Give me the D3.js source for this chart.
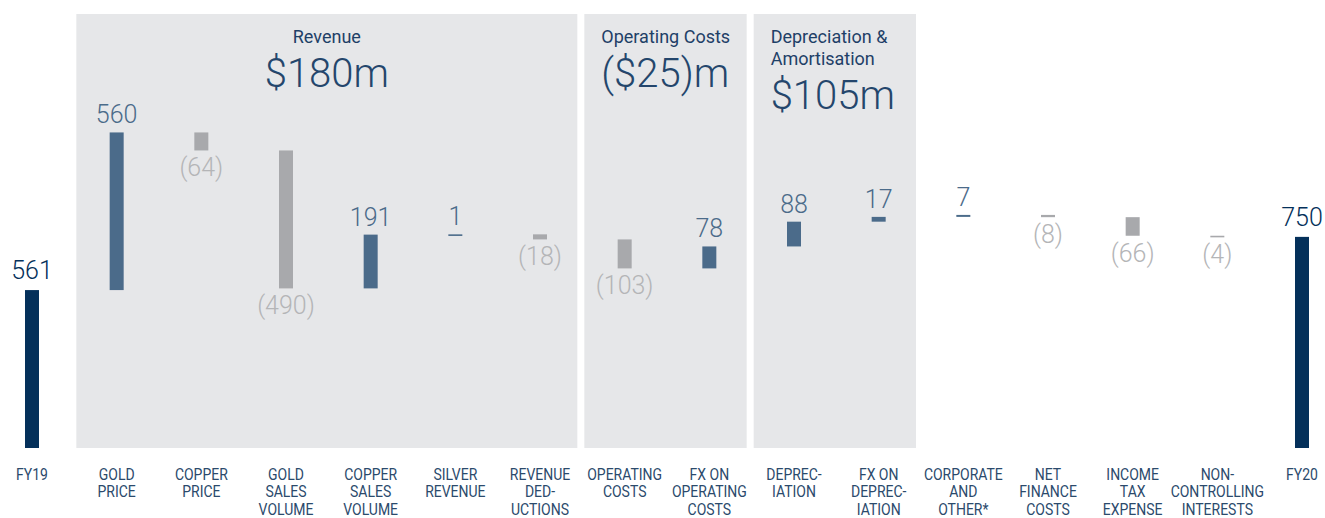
<!DOCTYPE html>
<html>
<head>
<meta charset="utf-8">
<title>fy19 to fy20 bridge</title>
<script src="https://cdn.jsdelivr.net/npm/d3@7"></script>
<style>
body { margin:0; background:#fff; }
text { font-family: Roboto, "DejaVu Sans", sans-serif; }
.cat { font-size:14.5px; fill:#2b4a6c; }
.val { font-size:25px; font-weight:300; }
.ptitle { font-size:18px; fill:#1e4067; }
.pval { font-size:40px; font-weight:300; fill:#24466c; }
</style>
</head>
<body>
<svg id="chart" width="1325" height="518"></svg>
<script>
// bottom labels, lines split on |
var cats = ["FY19", "GOLD|PRICE", "COPPER|PRICE", "GOLD|SALES|VOLUME", "COPPER|SALES|VOLUME",
  "SILVER|REVENUE", "REVENUE|DED-|UCTIONS", "OPERATING|COSTS", "FX ON|OPERATING|COSTS",
  "DEPREC-|IATION", "FX ON|DEPREC-|IATION", "CORPORATE|AND|OTHER*", "NET|FINANCE|COSTS",
  "INCOME|TAX|EXPENSE", "NON-|CONTROLLING|INTERESTS", "FY20"];
var vals = [561, 560, -64, -490, 191, 1, -18, -103, 78, 88, 17, 7, -8, -66, -4, 750];
var totals = ["FY19", "FY20"];

// shaded groups: first and last category index
var panelNames = ["Revenue", "Operating Costs", "Depreciation &|Amortisation"];
var panelVals = ["$180m", "($25)m", "$105m"];
var panelFrom = [1, 7, 9];
var panelTo = [6, 8, 10];

var col = {tot:"#04305a", up:"#4b6b8a", dn:"#a8a9ac", upTxt:"#4b6b8a", dnTxt:"#b4b5b7", panel:"#e6e7e9"};

var svg = d3.select("#chart");
var x = d3.scalePoint().domain(cats).range([32, 1302]);
var step = x.step();
var y = d3.scaleLinear().domain([0, 1000]).range([448, 166.5]);
var bw = 14;

// running totals
var rows = [], run = 0;
cats.forEach(function(c, i) {
  var v = vals[i], tot = totals.indexOf(c) >= 0;
  var a = tot ? 0 : run, b = tot ? v : run + v;
  run = b;
  rows.push({c:c, v:v, tot:tot, lo:Math.min(a, b), hi:Math.max(a, b)});
});

// panels
var pg = svg.append("g");
panelNames.forEach(function(n, i) {
  var l = x(cats[panelFrom[i]]) - step / 2 + 2;
  var r = x(cats[panelTo[i]]) + step / 2 - 5;
  pg.append("rect").attr("x", l).attr("y", 14).attr("width", r - l).attr("height", y(0) - 14)
    .attr("fill", col.panel);
  var mid = i == 0, tx = mid ? (l + r) / 2 : l + 17, anc = mid ? "middle" : "start";
  var lines = n.split("|");
  pg.append("text").attr("class", "ptitle").attr("text-anchor", anc)
    .selectAll("tspan").data(lines).enter().append("tspan")
    .attr("x", tx).attr("y", function(d, j) { return 43 + j * 22; }).text(function(d) { return d; });
  pg.append("text").attr("class", "pval").attr("text-anchor", anc)
    .attr("x", tx).attr("y", 87 + (lines.length - 1) * 22).text(panelVals[i]);
});

// bars
svg.append("g").selectAll("rect").data(rows).enter().append("rect")
  .attr("x", function(d) { return x(d.c) - bw / 2; })
  .attr("width", bw)
  .attr("y", function(d) { return y(d.hi); })
  .attr("height", function(d) { return Math.max(1.6, y(d.lo) - y(d.hi)); })
  .attr("fill", function(d) { return d.tot ? col.tot : d.v < 0 ? col.dn : col.up; });

// value labels
var fmt = function(v) { return v < 0 ? "(" + (-v) + ")" : String(v); };
svg.append("g").selectAll("text").data(rows).enter().append("text")
  .attr("class", "val").attr("text-anchor", "middle")
  .attr("x", function(d) { return x(d.c); })
  .attr("y", function(d) { return d.v < 0 ? y(d.lo) + 26 : y(d.hi) - (d.tot ? 11 : 9); })
  .attr("fill", function(d) { return d.tot ? col.tot : d.v < 0 ? col.dnTxt : col.upTxt; })
  .text(function(d) { return fmt(d.v); });

// category labels: small font stretched tall so it reads as a condensed face
var sy = 1.2, lh = 17.5;
var cg = svg.append("g").selectAll("g").data(cats).enter().append("g")
  .attr("transform", function(d) { return "translate(" + x(d) + ",480) scale(0.965," + sy + ")"; });
cg.selectAll("text").data(function(d) { return d.split("|"); }).enter().append("text")
  .attr("class", "cat").attr("text-anchor", "middle")
  .attr("x", 0).attr("y", function(d, j) { return j * lh / sy; }).text(function(d) { return d; });
</script>
</body>
</html>
